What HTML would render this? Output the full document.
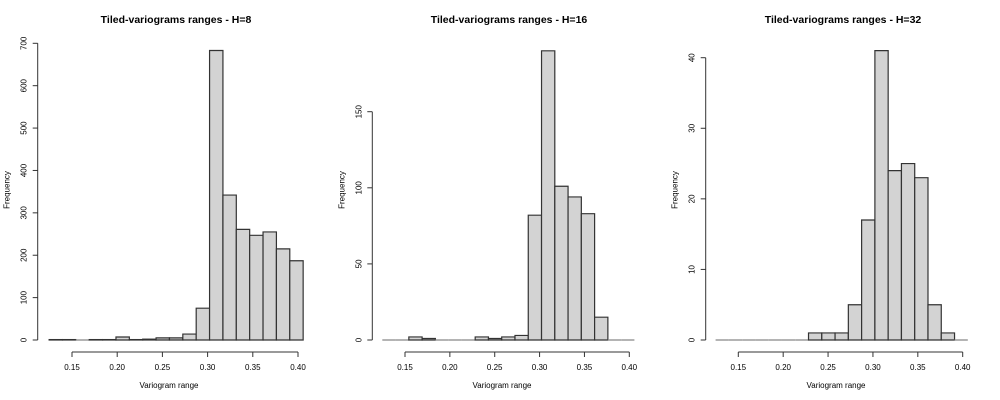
<!DOCTYPE html>
<html><head><meta charset="utf-8"><style>
body{margin:0;background:#fff;}
svg{display:block;font-family:"Liberation Sans",sans-serif;}
</style></head><body>
<svg id="c" width="1000" height="400"></svg>
<script>
const binStart = 0.1247;
const binEnd = 0.4057;
const titles = ["Tiled-variograms ranges - H=8","Tiled-variograms ranges - H=16","Tiled-variograms ranges - H=32"];
const counts8 = [1,1,0,1,1,7,1,2,5,5,14,75,683,342,261,247,255,215,187];
const counts16 = [0,0,2,1,0,0,0,2,1,2,3,82,190,101,94,83,15,0,0];
const counts32 = [0,0,0,0,0,0,0,1,1,1,5,17,41,24,25,23,5,1,0];
const xTicks = [0.15,0.20,0.25,0.30,0.35,0.40];
const yTicks8 = [0,100,200,300,400,500,600,700];
const yTicks16 = [0,50,100,150];
const yTicks32 = [0,10,20,30,40];
const seriesList = [counts8,counts16,counts32];
const yTickList = [yTicks8,yTicks16,yTicks32];

const layout = [
 {ax:37.7, x015:72, x040:298, y0:340, topVal:700, topPx:43.3, tc:176},
 {ax:372.3, x015:405, x040:629.3, y0:340, topVal:150, topPx:111.7, tc:509},
 {ax:705.7, x015:738.3, x040:962.7, y0:340, topVal:40, topPx:57.7, tc:843}
];
const NS="http://www.w3.org/2000/svg";
const svg=document.getElementById('c');
function mk(tag,attrs,parent){const e=document.createElementNS(NS,tag);for(const k in attrs)e.setAttribute(k,attrs[k]);(parent||svg).appendChild(e);return e;}

layout.forEach((L,p)=>{
  const g=mk('g',{});
  
  
  const sx=v=>L.x015+(v-0.15)*(L.x040-L.x015)/0.25;
  const sy=v=>L.y0-v*(L.y0-L.topPx)/L.topVal;
  const data=seriesList[p];
  const n=data.length, w=(binEnd-binStart)/n;
  data.forEach((c,i)=>{
    const x1=sx(binStart+i*w), x2=sx(binStart+(i+1)*w), yt=sy(c);
    const d=`M${x1},${L.y0}L${x1},${yt}L${x2},${yt}L${x2},${L.y0}Z`;
    const r=mk('path',{d:d,fill:'#d3d3d3',stroke:c===0?'#888':'#333','stroke-width':1.2},g);
    
    
  });
  const yt=yTickList[p];
  const ya=mk('line',{x1:L.ax,x2:L.ax,y1:sy(yt[0]),y2:sy(yt[yt.length-1]),stroke:'#333'},g);
  
  
  yt.forEach(v=>{
    mk('line',{x1:L.ax-5,x2:L.ax,y1:sy(v),y2:sy(v),stroke:'#333'},g);
    const t=mk('text',{x:L.ax-11,y:sy(v),'font-size':8,'text-anchor':'middle',transform:`rotate(-90 ${L.ax-11} ${sy(v)})`,fill:'#000'},g);
    t.textContent=v;
    
    
  });
  const xa=mk('line',{x1:sx(xTicks[0]),x2:sx(xTicks[xTicks.length-1]),y1:352,y2:352,stroke:'#333'},g);
  
  
  xTicks.forEach(v=>{
    mk('line',{x1:sx(v),x2:sx(v),y1:352,y2:357,stroke:'#333'},g);
    const t=mk('text',{x:sx(v),y:370,'font-size':8,'text-anchor':'middle',fill:'#000'},g);
    t.textContent=v.toFixed(2);
    
    
  });
  const xt=mk('text',{x:L.tc-7,y:388,'font-size':8,'text-anchor':'middle',fill:'#000'},g);
  xt.textContent='Variogram range';
  
  
  const yx=L.ax-28, yy=190;
  const ytt=mk('text',{x:yx,y:yy,'font-size':8,'text-anchor':'middle',transform:`rotate(-90 ${yx} ${yy})`,fill:'#000'},g);
  ytt.textContent='Frequency';
  
  
  const tt=mk('text',{x:L.tc,y:23,'font-size':10.5,'font-weight':'bold','text-anchor':'middle',fill:'#000'},g);
  tt.textContent=titles[p];
  
  
});
</script>
</body></html>
